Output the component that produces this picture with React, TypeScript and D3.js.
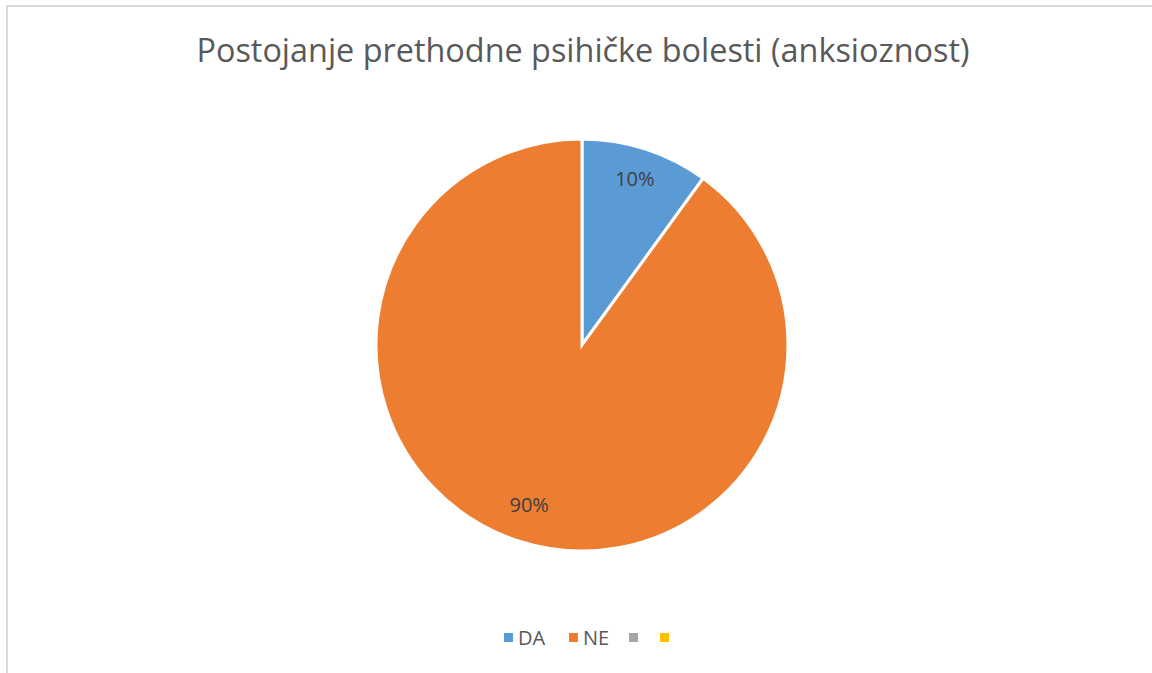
import React, { useEffect, useRef } from 'react';
import * as d3 from 'd3';

const categories = ['DA', 'NE', '', ''];
const values = [10, 90, 0, 0];
const colors = ['#5b9bd5', '#ed7d31', '#a5a5a5', '#ffc000'];
const title = 'Postojanje prethodne psihičke bolesti (anksioznost)';

const W = 1152;
const H = 673;

export default function App() {
	const ref = useRef<SVGSVGElement>(null);

	useEffect(() => {
		const svg = d3.select(ref.current);
		svg.selectAll('*').remove();
		const font = "'Open Sans', 'Liberation Sans', sans-serif";

		svg.append('rect')
			.attr('width', W).attr('height', H).attr('fill', '#ffffff');

		// chart area border (right/bottom fall outside the picture)
		svg.append('rect')
			.attr('x', 7).attr('y', 6)
			.attr('width', W + 20).attr('height', H + 20)
			.attr('fill', 'none')
			.attr('stroke', '#d9d9d9')
			.attr('stroke-width', 2);

		svg.append('text')
			.attr('x', 583).attr('y', 62)
			.attr('text-anchor', 'middle')
			.style('font-family', font)
			.style('font-size', '32.4px')
			.style('fill', '#595959')
			.text(title);

		const cx = 582, cy = 345, r = 206;
		const data = categories.map((c, i) => ({ c, v: values[i], color: colors[i] }));
		const pie = d3.pie<any>().sort(null).value(d => d.v);
		const arc = d3.arc<any>().innerRadius(0).outerRadius(r);
		const arcs = pie(data);

		const g = svg.append('g').attr('transform', `translate(${cx},${cy})`);
		g.selectAll('path')
			.data(arcs.filter(a => a.data.v > 0))
			.join('path')
			.attr('d', arc)
			.attr('fill', d => d.data.color)
			.attr('stroke', '#ffffff')
			.attr('stroke-width', 3);

		const labelArc = d3.arc<any>().innerRadius(r * 0.83).outerRadius(r * 0.83);
		g.selectAll('text.lbl')
			.data(arcs.filter(a => a.data.v > 0))
			.join('text')
			.attr('class', 'lbl')
			.attr('transform', d => {
				const [x, y] = labelArc.centroid(d);
				return `translate(${x},${y})`;
			})
			.attr('text-anchor', 'middle')
			.attr('dy', '0.2em')
			.style('font-family', font)
			.style('font-size', '20px')
			.style('fill', '#404040')
			.text(d => `${d.data.v}%`);

		// legend
		const legendX = [504, 569, 629, 660];
		const legend = svg.append('g');
		data.forEach((d, i) => {
			legend.append('rect')
				.attr('x', legendX[i]).attr('y', 633)
				.attr('width', 9).attr('height', 9)
				.attr('fill', d.color);
			legend.append('text')
				.attr('x', legendX[i] + 14).attr('y', 645)
				.style('font-family', font)
				.style('font-size', '20px')
				.style('fill', '#595959')
				.text(d.c);
		});
	}, []);

	return (
		<svg ref={ref} width={W} height={H}
			style={{ position: 'fixed', left: 0, top: 0 }} />
	);
}
